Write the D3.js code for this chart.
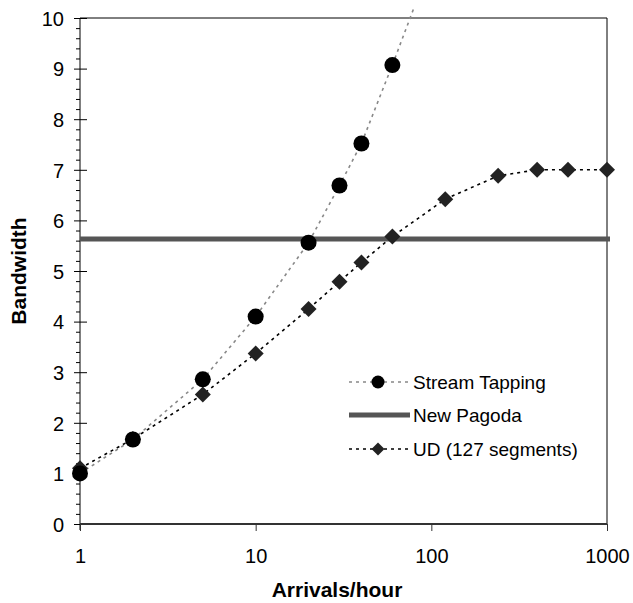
<!DOCTYPE html>
<html><head><meta charset="utf-8">
<script src="https://cdn.jsdelivr.net/npm/d3@7"></script>
<style>
body{margin:0;background:#fff;}
text{font-family:"Liberation Sans",Arial,sans-serif;fill:#000;}
</style></head>
<body><svg id="c" width="633" height="603"></svg>
<script>
const arrivalsST = [1, 2, 5, 10, 20, 30, 40, 60, 80];
const streamTapping = [1.0, 1.67, 2.86, 4.1, 5.56, 6.69, 7.52, 9.07, 10.22];
const arrivalsUD = [1, 2, 5, 10, 20, 30, 40, 60, 120, 240, 400, 600, 1000];
const udValues = [1.1, 1.68, 2.56, 3.37, 4.25, 4.79, 5.17, 5.68, 6.42, 6.88, 7.0, 7.0, 7.0];
const newPagoda = 5.63;
const xTicks = [1, 10, 100, 1000];
const yTicks = [0,1,2,3,4,5,6,7,8,9,10];
const legendLabels = ["Stream Tapping", "New Pagoda", "UD (127 segments)"];

const svg = d3.select("#c");
const L = 80, R = 607, T = 18, B = 524;
const x = d3.scaleLog().domain([1, 1000]).range([L, R]);
const y = d3.scaleLinear().domain([0, 10]).range([B, T]);

// top and right borders
svg.append("line").attr("x1", L).attr("x2", R).attr("y1", T).attr("y2", T).attr("stroke", "#000").attr("stroke-width", 1);
svg.append("line").attr("x1", R).attr("x2", R).attr("y1", T).attr("y2", B).attr("stroke", "#000").attr("stroke-width", 1);

// minor y ticks
const minor = d3.range(0, 10.01, 0.2).filter(v => Math.abs(v - Math.round(v)) > 1e-6);
const gMinor = svg.append("g").attr("transform", `translate(${L},0)`)
  .call(d3.axisLeft(y).tickValues(minor).tickSize(4).tickFormat(""));
gMinor.select(".domain").remove();
gMinor.selectAll("line").attr("stroke", "#000");

// major y axis
const gy = svg.append("g").attr("transform", `translate(${L},0)`)
  .call(d3.axisLeft(y).tickValues(yTicks).tickSize(6).tickPadding(10).tickFormat(d3.format("d")));
gy.select(".domain").attr("stroke", "#000").attr("d", `M0,${T}V${B + 6}`);
gy.selectAll(".tick line").attr("x1", 7).attr("stroke", "#000");
gy.selectAll(".tick text").attr("font-size", 20).attr("x", -16).attr("dy", "0.36em")
  .style("font-family", '"Liberation Sans",Arial,sans-serif').attr("fill", "#000");

// x axis
const gx = svg.append("g").attr("transform", `translate(0,${B})`)
  .call(d3.axisBottom(x).tickValues(xTicks).tickSize(7).tickPadding(10).tickFormat(d3.format("d")));
gx.select(".domain").attr("stroke", "#333").attr("stroke-width", 2).attr("d", `M${L},0H${R}`);
gx.selectAll(".tick line").attr("stroke", "#333");
gx.selectAll(".tick text").attr("font-size", 20).attr("y", 39).attr("dy", 0)
  .style("font-family", '"Liberation Sans",Arial,sans-serif').attr("fill", "#000");

// axis titles
svg.append("text").attr("x", 337).attr("y", 597).attr("text-anchor", "middle")
  .attr("font-size", 21).attr("font-weight", "bold").text("Arrivals/hour");
svg.append("text").attr("transform", "translate(26,271) rotate(-90)").attr("text-anchor", "middle")
  .attr("font-size", 21).attr("font-weight", "bold").text("Bandwidth");

// New Pagoda line
svg.append("line").attr("x1", x(1)).attr("x2", x(1000) + 3).attr("y1", y(newPagoda)).attr("y2", y(newPagoda))
  .attr("stroke", "#555").attr("stroke-width", 5);

// lines
const stData = arrivalsST.map((a, i) => ({a, v: streamTapping[i]}));
const udData = arrivalsUD.map((a, i) => ({a, v: udValues[i]}));
const line = d3.line().x(d => x(d.a)).y(d => y(d.v));

svg.append("path").datum(udData).attr("d", line).attr("fill", "none")
  .attr("stroke", "#000").attr("stroke-width", 1.6).attr("stroke-dasharray", "3,4");
svg.append("path").datum(stData).attr("d", line).attr("fill", "none")
  .attr("stroke", "#888").attr("stroke-width", 1.6).attr("stroke-dasharray", "3,4");

const diamond = s => `M0,${-s}L${s},0L0,${s}L${-s},0Z`;
svg.append("g").selectAll("path").data(udData).join("path")
  .attr("transform", d => `translate(${x(d.a)},${y(d.v)})`)
  .attr("d", diamond(8)).attr("fill", "#222");
svg.append("g").selectAll("circle").data(stData.filter(d => d.v <= 10)).join("circle")
  .attr("cx", d => x(d.a)).attr("cy", d => y(d.v)).attr("r", 8).attr("fill", "#000");

// legend
const lg = svg.append("g");
const ly = [382, 415, 449];
const lx1 = 349, lx2 = 410, lm = 378, lt = 413;
lg.append("line").attr("x1", lx1).attr("x2", lx2).attr("y1", ly[0]).attr("y2", ly[0])
  .attr("stroke", "#888").attr("stroke-width", 1.6).attr("stroke-dasharray", "3,4");
lg.append("circle").attr("cx", lm).attr("cy", ly[0]).attr("r", 6.5).attr("fill", "#000");
lg.append("line").attr("x1", lx1).attr("x2", lx2).attr("y1", ly[1]).attr("y2", ly[1])
  .attr("stroke", "#555").attr("stroke-width", 5);
lg.append("line").attr("x1", lx1).attr("x2", lx2).attr("y1", ly[2]).attr("y2", ly[2])
  .attr("stroke", "#000").attr("stroke-width", 1.6).attr("stroke-dasharray", "3,4");
lg.append("path").attr("transform", `translate(${lm},${ly[2]})`).attr("d", diamond(6.5)).attr("fill", "#222");
lg.selectAll("text").data(legendLabels).join("text")
  .attr("x", lt).attr("y", (d, i) => ly[i]).attr("dy", "0.36em").attr("font-size", 19).text(d => d);
</script></body></html>
